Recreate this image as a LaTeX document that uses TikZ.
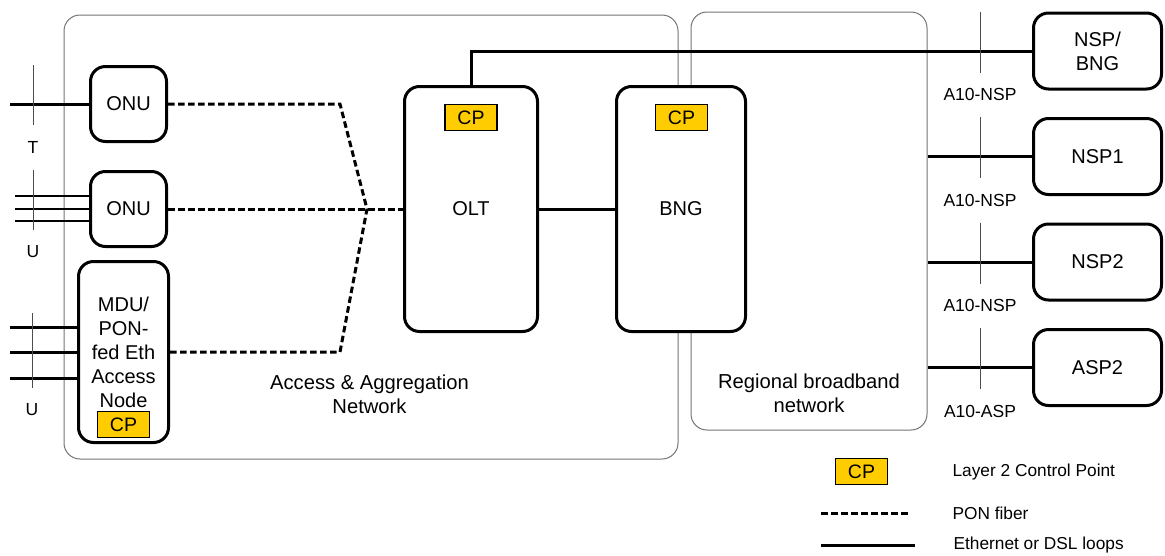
\documentclass[tikz,border=0pt]{standalone}
\usepackage{fontspec}
\setmainfont{Liberation Sans}
\usetikzlibrary{positioning}

\definecolor{cpgold}{HTML}{FFCC00}

\tikzset{
	dev/.style={draw, fill=white, line width=3pt, rounded corners=15pt, inner sep=0pt, align=center, font=\fontsize{20}{24}\selectfont},
	cpbox/.style={draw, fill=cpgold, line width=1.3pt, minimum width=52pt, minimum height=26pt, inner sep=0pt, font=\fontsize{19.5}{24}\selectfont},
	netarea/.style={draw=black!55, line width=1pt, rounded corners=16pt, inner sep=0pt},
	arealabel/.style={align=center, font=\fontsize{20.2}{24}\selectfont},
	reflabel/.style={font=\fontsize{17.5}{20}\selectfont},
	leglabel/.style={anchor=west, font=\fontsize{17.3}{20}\selectfont},
	pon/.style={line width=3pt, dash pattern=on 6.5pt off 3.5pt},
	eth/.style={line width=3pt},
	refpt/.style={line width=1pt, draw=black!70}
}

\begin{document}
\begin{tikzpicture}[x=1pt, y=-1pt]
	\useasboundingbox (0,0) rectangle (1165,555);
	
	% network areas
	\node[netarea, minimum width=614pt, minimum height=444pt] (aan) at (371,237) {};
	\node[netarea, minimum width=236pt, minimum height=418pt] (rbn) at (809,221) {};
	\node[arealabel] (aanlbl) at (369.5,394) {Access \& Aggregation\\Network};
	\node[arealabel] (rbnlbl) at (809,393) {Regional broadband\\network};
	
	% customer side
	\node[dev, minimum width=76pt, minimum height=75pt] (onu1) at (128.5,104) {ONU};
	\node[dev, minimum width=76pt, minimum height=75pt] (onu2) at (128.5,209) {ONU};
	\node[dev, minimum width=90pt, minimum height=181pt] (mdu) at (123.5,352) {MDU/\\PON-\\fed Eth\\Access\\Node};
	\node[cpbox] (mducp) at (123.5,424.5) {CP};
	
	% OLT and BNG
	\node[dev, minimum width=133pt, minimum height=245pt] (olt) at (471,209) {OLT};
	\node[cpbox] (oltcp) at (471,117.5) {CP};
	\node[dev, minimum width=129pt, minimum height=245pt] (bng) at (681,209) {BNG};
	\node[cpbox] (bngcp) at (681.5,117.5) {CP};
	
	% service providers
	\node[dev, minimum width=128pt, minimum height=76pt] (nspbng) at (1097.5,51) {NSP/\\BNG};
	\node[dev, minimum width=128pt, minimum height=76pt, below=26.5pt of nspbng] (nsp1) {NSP1};
	\node[dev, minimum width=128pt, minimum height=76pt, below=26.5pt of nsp1] (nsp2) {NSP2};
	\node[dev, minimum width=128pt, minimum height=76pt, below=26.5pt of nsp2] (asp2) {ASP2};
	
	% PON fibers
	\coordinate (split) at (367,209);
	\coordinate (bendtop) at (340,104);
	\coordinate (bendbot) at (340,352);
	\draw[pon] (onu1.east) -- (bendtop) -- (split);
	\draw[pon] (mdu.east) -- (bendbot) -- (split);
	\draw[pon] (onu2.east) -- (olt.west);
	
	% ethernet links
	\draw[eth] (olt.east) -- (bng.west);
	\draw[eth] (olt.north) |- (nspbng.west);
	\foreach \n in {nsp1,nsp2,asp2}
		\draw[eth] (rbn.east |- \n.west) -- (\n.west);
	
	% customer loops
	\draw[eth] (onu1.west) --++ (-79,0);
	\foreach \dy in {13,0,-12}
		\draw[line width=2.5pt] ([yshift=\dy pt]onu2.west) --++ (-74,0);
	\foreach \dy in {25,0,-26}
		\draw[eth] ([yshift=\dy pt]mdu.west) --++ (-67,0);
	
	% reference points
	\draw[refpt] (33,65) -- (33,125);
	\node[reflabel] (reft) at (33,147) {T};
	\draw[refpt] (33,170) -- (33,230);
	\node[reflabel] (refu1) at (33,252) {U};
	\draw[refpt] (32,313) -- (32,388);
	\node[reflabel] (refu2) at (32,410) {U};
	\foreach \n/\lbl in {nspbng/A10-NSP, nsp1/A10-NSP, nsp2/A10-NSP, asp2/A10-ASP} {
		\draw[refpt] (980,0 |- \n.north) --++ (0,61);
		\node[reflabel] (a10\n) at ([yshift=-83pt]980,0 |- \n.north) {\lbl};
	}
	
	% legend
	\node[cpbox] (legcp) at (861.5,471.5) {CP};
	\node[leglabel] (legcptext) at (949,472) {Layer 2 Control Point};
	\coordinate (legpona) at (821,513);
	\coordinate (legponb) at (911,513);
	\draw[pon] (legpona) -- (legponb);
	\node[leglabel] (legpontext) at (949,513) {PON fiber};
	\coordinate (legetha) at (821,545);
	\coordinate (legethb) at (915,545);
	\draw[eth] (legetha) -- (legethb);
	\node[leglabel] (legethtext) at (950,545) {Ethernet or DSL loops};
\end{tikzpicture}
\end{document}
